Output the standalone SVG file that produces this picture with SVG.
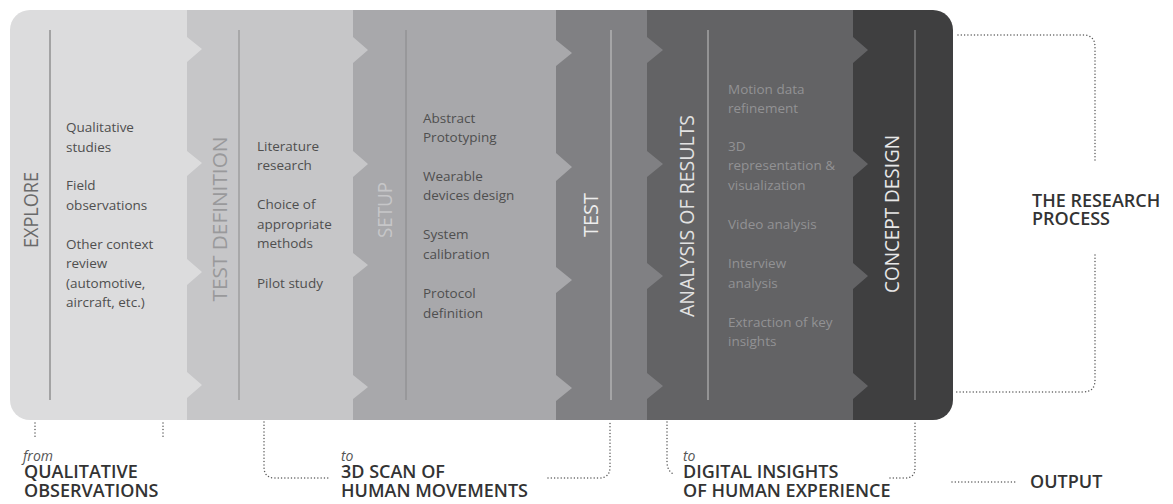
<svg xmlns="http://www.w3.org/2000/svg" width="1173" height="504" viewBox="0 0 1173 504">
  <style>
    .item { font-family: "Open Sans", "Liberation Sans", sans-serif; font-size: 13.5px; }
    .dark-item { fill: #4f4f4f; }
    .pale-item { fill: #929294; }
    .stage { font-family: "Open Sans", "Liberation Sans", sans-serif; font-size: 20px; font-weight: 500; }
    .big { font-family: "Open Sans", "Liberation Sans", sans-serif; font-size: 18px; font-weight: 600; fill: #333333; }
    .small-it { font-size: 14px; font-style: italic; font-weight: 400; fill: #555555; }
    .dots { fill: none; stroke: #5a5a5a; stroke-width: 1.5; stroke-linecap: round; stroke-dasharray: 0 3.3; }
    .col { clip-path: url(#frame); }
  </style>
  <defs>
    <clipPath id="frame">
      <rect x="10" y="10" width="943" height="410" rx="20" ry="20"/>
    </clipPath>
  </defs>

  <!-- stages are painted right to left so each stage's teeth overlap the next one -->
  <g id="concept-design">
    <rect class="col" x="853" y="10" width="100" height="410" fill="#3f3f40"/>
    <line x1="915" y1="30" x2="915" y2="400" stroke="#9a9a9a" stroke-width="1"/>
    <text class="stage" fill="#e8e8e8" transform="translate(899,214) rotate(-90)" text-anchor="middle" textLength="158" lengthAdjust="spacingAndGlyphs">CONCEPT DESIGN</text>
  </g>

  <g id="analysis-of-results">
    <path class="col" fill="#636365" d="M647,10 H853 V420 H647 Z M853,37 L868,50 L853,63 Z M853,151 L868,164 L853,177 Z M853,263 L868,276 L853,289 Z M853,373 L868,386 L853,399 Z"/>
    <line x1="708" y1="30" x2="708" y2="400" stroke="#c4c4c4" stroke-width="1"/>
    <text class="stage" fill="#e2e2e2" transform="translate(694,216) rotate(-90)" text-anchor="middle" textLength="202" lengthAdjust="spacingAndGlyphs">ANALYSIS OF RESULTS</text>
    <g class="item pale-item">
      <text x="728" y="94">Motion data</text>
      <text x="728" y="113">refinement</text>
      <text x="728" y="151">3D</text>
      <text x="728" y="170">representation &amp;</text>
      <text x="728" y="190">visualization</text>
      <text x="728" y="229">Video analysis</text>
      <text x="728" y="268">Interview</text>
      <text x="728" y="288">analysis</text>
      <text x="728" y="327">Extraction of key</text>
      <text x="728" y="346">insights</text>
    </g>
  </g>

  <g id="test">
    <path class="col" fill="#808083" d="M556,10 H647 V420 H556 Z M647,37 L663,50 L647,63 Z M647,151 L663,164 L647,177 Z M647,263 L663,276 L647,289 Z M647,373 L663,386 L647,399 Z"/>
    <line x1="611" y1="30" x2="611" y2="400" stroke="#cacaca" stroke-width="1"/>
    <text class="stage" fill="#ededed" transform="translate(598,215) rotate(-90)" text-anchor="middle" textLength="44" lengthAdjust="spacingAndGlyphs">TEST</text>
  </g>

  <g id="setup">
    <path class="col" fill="#a8a8ab" d="M353,10 H556 V420 H353 Z M556,40 L572,53 L556,66 Z M556,153 L572,167 L556,181 Z M556,267 L572,280 L556,293 Z M556,375 L572,388 L556,401 Z"/>
    <line x1="406" y1="30" x2="406" y2="400" stroke="#88888a" stroke-width="1"/>
    <text class="stage" fill="#c6c6c8" transform="translate(392,210) rotate(-90)" text-anchor="middle" textLength="56" lengthAdjust="spacingAndGlyphs">SETUP</text>
    <g class="item dark-item">
      <text x="423" y="123">Abstract</text>
      <text x="423" y="142">Prototyping</text>
      <text x="423" y="181">Wearable</text>
      <text x="423" y="200">devices design</text>
      <text x="423" y="239">System</text>
      <text x="423" y="259">calibration</text>
      <text x="423" y="298">Protocol</text>
      <text x="423" y="318">definition</text>
    </g>
  </g>

  <g id="test-definition">
    <path class="col" fill="#c6c6c8" d="M187,10 H353 V420 H187 Z M353,37 L368,50 L353,63 Z M353,151 L368,164 L353,177 Z M353,253 L368,265 L353,277 Z M353,375 L368,387 L353,399 Z"/>
    <line x1="239" y1="30" x2="239" y2="400" stroke="#8a8a8a" stroke-width="1"/>
    <text class="stage" fill="#99999b" transform="translate(227,219) rotate(-90)" text-anchor="middle" textLength="165" lengthAdjust="spacingAndGlyphs">TEST DEFINITION</text>
    <g class="item dark-item">
      <text x="257" y="151">Literature</text>
      <text x="257" y="170">research</text>
      <text x="257" y="209">Choice of</text>
      <text x="257" y="229">appropriate</text>
      <text x="257" y="248">methods</text>
      <text x="257" y="288">Pilot study</text>
    </g>
  </g>

  <g id="explore">
    <path class="col" fill="#dcdcdd" d="M10,10 H187 V420 H10 Z M187,37 L202,49 L187,62 Z M187,151 L202,163 L187,176 Z M187,259 L202,272 L187,285 Z M187,372 L202,385 L187,398 Z"/>
    <line x1="50" y1="30" x2="50" y2="400" stroke="#6a6a6a" stroke-width="1"/>
    <text class="stage" fill="#6a6a6a" transform="translate(38,210) rotate(-90)" text-anchor="middle" textLength="76" lengthAdjust="spacingAndGlyphs">EXPLORE</text>
    <g class="item dark-item">
      <text x="66" y="132">Qualitative</text>
      <text x="66" y="152">studies</text>
      <text x="66" y="190">Field</text>
      <text x="66" y="210">observations</text>
      <text x="66" y="249">Other context</text>
      <text x="66" y="268">review</text>
      <text x="66" y="288">(automotive,</text>
      <text x="66" y="307">aircraft, etc.)</text>
    </g>
  </g>

  <!-- process title and outputs -->
  <g id="research-process">
    <text class="big" x="1032" y="207" font-size="20">THE RESEARCH<tspan x="1032" dy="18">PROCESS</tspan></text>
  </g>

  <g id="output-qualitative">
    <text class="big" x="23" y="461"><tspan class="small-it">from</tspan><tspan x="24" dy="17">QUALITATIVE</tspan><tspan x="24" dy="19">OBSERVATIONS</tspan></text>
  </g>

  <g id="output-3d-scan">
    <text class="big" x="341" y="461"><tspan class="small-it">to</tspan><tspan x="341" dy="17">3D SCAN OF</tspan><tspan x="341" dy="19">HUMAN MOVEMENTS</tspan></text>
  </g>

  <g id="output-digital">
    <text class="big" x="683" y="461"><tspan class="small-it">to</tspan><tspan x="683" dy="17">DIGITAL INSIGHTS</tspan><tspan x="683" dy="19">OF HUMAN EXPERIENCE</tspan></text>
  </g>

  <g id="legend">
    <text class="big" x="1030" y="488" font-size="20">OUTPUT</text>
  </g>

  <!-- dotted brackets -->
  <g id="connectors" class="dots">
    <path d="M35,423 V437"/>
    <path d="M163,423 V437"/>
    <path d="M264,422 V467 Q264,478 275,478 H330"/>
    <path d="M548,478 H599 Q610,478 610,467 V422"/>
    <path d="M667,422 V462 Q667,470 673,474"/>
    <path d="M890,478 H905 Q915,478 915,468 V422"/>
    <path d="M958,35 H1083 Q1095,35 1095,47 V162"/>
    <path d="M1095,255 V380 Q1095,392 1083,392 H956"/>
    <path d="M952,482 H1017"/>
  </g>
</svg>
